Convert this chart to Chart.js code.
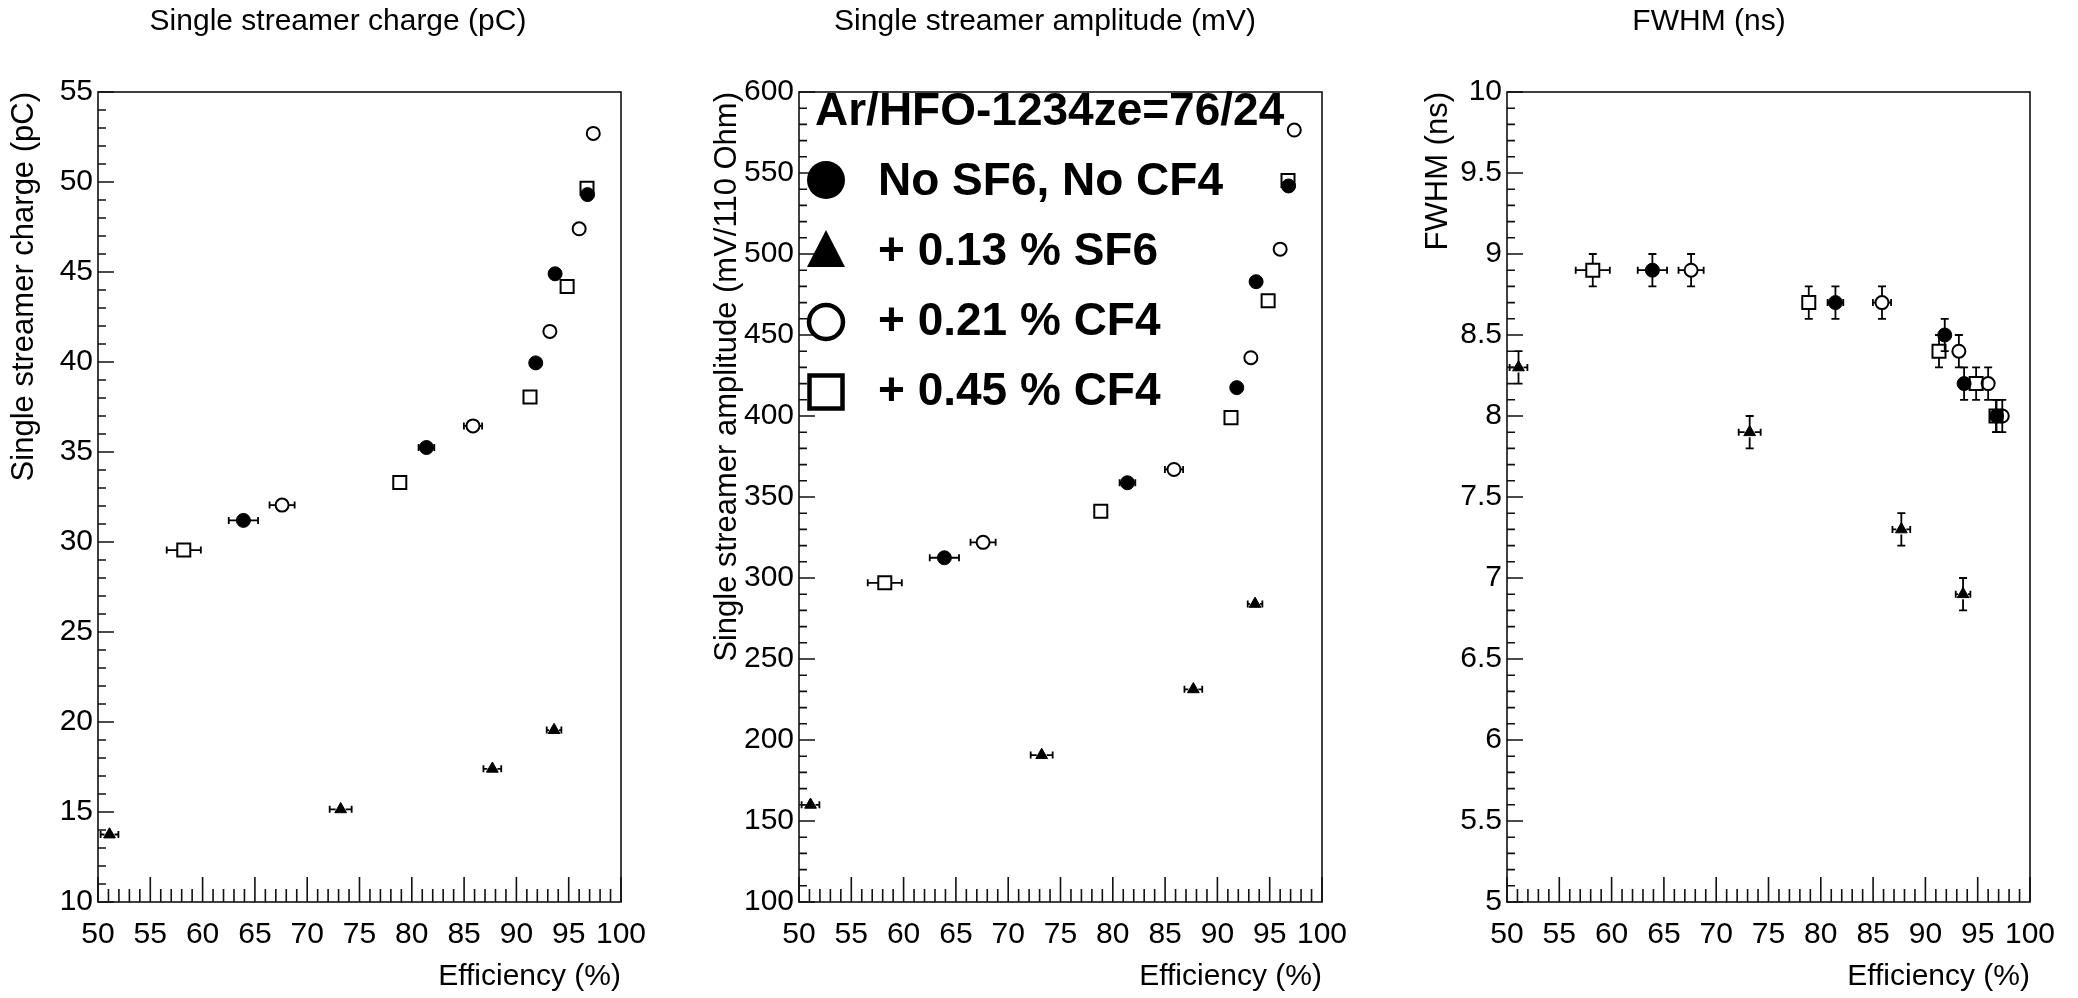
<!DOCTYPE html>
<html><head><meta charset="utf-8">
<script src="https://cdn.jsdelivr.net/npm/chart.js@4.4.1/dist/chart.umd.min.js"></script>
<style>
html,body{margin:0;padding:0;background:#fff;width:2078px;height:998px;overflow:hidden;}
canvas{position:absolute;top:0;}
</style></head><body>
<canvas id="c1" width="676" height="998" style="left:0px"></canvas>
<canvas id="c2" width="704" height="998" style="left:693px"></canvas>
<canvas id="c3" width="692" height="998" style="left:1386px"></canvas>
<script>
// ---------------- data ----------------
const seriesNames = ['No SF6, No CF4', '+ 0.13 % SF6', '+ 0.21 % CF4', '+ 0.45 % CF4'];
const legendHeader = 'Ar/HFO-1234ze=76/24';
const panelTitles = ['Single streamer charge (pC)', 'Single streamer amplitude (mV)', 'FWHM (ns)'];
const yAxisTitles = ['Single streamer charge (pC)', 'Single streamer amplitude (mV/110 Ohm)', 'FWHM (ns)'];
const xAxisTitle = 'Efficiency (%)';

const efficiencyTicks = [50, 55, 60, 65, 70, 75, 80, 85, 90, 95, 100];
const efficiencyTickLabels = ['50', '55', '60', '65', '70', '75', '80', '85', '90', '95', '100'];
const chargeTicks = [10, 15, 20, 25, 30, 35, 40, 45, 50, 55];
const chargeTickLabels = ['10', '15', '20', '25', '30', '35', '40', '45', '50', '55'];
const amplitudeTicks = [100, 150, 200, 250, 300, 350, 400, 450, 500, 550, 600];
const amplitudeTickLabels = ['100', '150', '200', '250', '300', '350', '400', '450', '500', '550', '600'];
const fwhmTicks = [5, 5.5, 6, 6.5, 7, 7.5, 8, 8.5, 9, 9.5, 10];
const fwhmTickLabels = ['5', '5.5', '6', '6.5', '7', '7.5', '8', '8.5', '9', '9.5', '10'];

// efficiency (%) per series
const effNoAdd  = [63.9, 81.4, 91.85, 93.7, 96.8];
const effSF6    = [51.1, 73.2, 87.7, 93.6];
const effCF4a   = [67.6, 85.85, 93.2, 96.0, 97.35];
const effCF4b   = [58.2, 78.85, 91.3, 94.85, 96.75];
// efficiency errors
const effErrNoAdd = [1.4, 0.75, 0.5, 0.5, 0.4];
const effErrSF6   = [0.85, 1.05, 0.85, 0.7];
const effErrCF4a  = [1.2, 0.87, 0.5, 0.4, 0.3];
const effErrCF4b  = [1.63, 0.6, 0.5, 0.4, 0.3];

// single streamer charge (pC)
const chargeNoAdd = [31.2, 35.25, 39.95, 44.9, 49.3];
const chargeSF6   = [13.75, 15.15, 17.4, 19.55];
const chargeCF4a  = [32.05, 36.45, 41.7, 47.4, 52.7];
const chargeCF4b  = [29.55, 33.3, 38.05, 44.2, 49.65];
const chargeErr   = [0.2, 0.2, 0.2, 0.2, 0.2];

// single streamer amplitude (mV)
const ampNoAdd = [312.5, 358.8, 417.5, 482.9, 542];
const ampSF6   = [160, 190.7, 231.3, 284];
const ampCF4a  = [322, 367, 436, 503, 576.5];
const ampCF4b  = [297, 341.2, 399, 471.2, 545.3];
const ampErr   = [2, 2, 2, 2, 2];

// FWHM (ns)
const fwhmNoAdd = [8.9, 8.7, 8.5, 8.2, 8.0];
const fwhmSF6   = [8.3, 7.9, 7.3, 6.9];
const fwhmCF4a  = [8.9, 8.7, 8.4, 8.2, 8.0];
const fwhmCF4b  = [8.9, 8.7, 8.4, 8.2, 8.0];
const fwhmErr   = [0.1, 0.1, 0.1, 0.1, 0.1];

// ---------------- styling ----------------
const FONT = "'Liberation Sans', Arial, Helvetica, sans-serif";
const seriesStyles = [
  {style: 'circle',   fill: true,  r: 7,   gap: 6},
  {style: 'triangle', fill: true,  r: 6.8, gap: 5},
  {style: 'circle',   fill: false, r: 6.5, gap: 6.5},
  {style: 'rect',     fill: false, r: 9.2, gap: 6.5}
];
const effs = [effNoAdd, effSF6, effCF4a, effCF4b];
const effErrs = [effErrNoAdd, effErrSF6, effErrCF4a, effErrCF4b];

function buildDatasets(values, yErr) {
  return values.map((vals, s) => {
    const st = seriesStyles[s];
    return {
      label: seriesNames[s],
      data: vals.map((v, i) => ({x: effs[s][i], y: v, xe: effErrs[s][i], ye: yErr[i]})),
      showLine: false,
      clip: false,
      pointStyle: st.style,
      pointRadius: st.r,
      pointHoverRadius: st.r,
      pointBackgroundColor: st.fill ? '#000' : 'rgba(0,0,0,0)',
      pointBorderColor: '#000',
      pointBorderWidth: st.fill ? 1 : 2,
      errGap: st.gap
    };
  });
}

// error bars (drawn through the chart scales)
const errorBars = {
  id: 'errorBars',
  beforeDatasetsDraw(chart) {
    const ctx = chart.ctx, xs = chart.scales.x, ys = chart.scales.y;
    ctx.save();
    ctx.strokeStyle = '#000';
    ctx.lineWidth = 1.8;
    chart.data.datasets.forEach(ds => {
      const g = ds.errGap;
      ds.data.forEach(p => {
        const cx = xs.getPixelForValue(p.x), cy = ys.getPixelForValue(p.y);
        const xl = xs.getPixelForValue(p.x - p.xe), xr = xs.getPixelForValue(p.x + p.xe);
        const yt = ys.getPixelForValue(p.y + p.ye), yb = ys.getPixelForValue(p.y - p.ye);
        ctx.beginPath();
        if (cx - xl > g) {
          ctx.moveTo(xl, cy); ctx.lineTo(cx - g, cy);
          ctx.moveTo(cx + g, cy); ctx.lineTo(xr, cy);
          ctx.moveTo(xl, cy - 3.5); ctx.lineTo(xl, cy + 3.5);
          ctx.moveTo(xr, cy - 3.5); ctx.lineTo(xr, cy + 3.5);
        }
        if (yb - cy > g) {
          ctx.moveTo(cx, yt); ctx.lineTo(cx, cy - g);
          ctx.moveTo(cx, cy + g); ctx.lineTo(cx, yb);
          ctx.moveTo(cx - 4, yt); ctx.lineTo(cx + 4, yt);
          ctx.moveTo(cx - 4, yb); ctx.lineTo(cx + 4, yb);
        }
        ctx.stroke();
      });
    });
    ctx.restore();
  }
};

// frame + ROOT-like inward ticks (major and minor)
const frameTicks = {
  id: 'frameTicks',
  afterDraw(chart, args, o) {
    const ctx = chart.ctx, a = chart.chartArea, xs = chart.scales.x, ys = chart.scales.y;
    ctx.save();
    ctx.strokeStyle = '#111';
    ctx.lineWidth = 1.6;
    ctx.strokeRect(a.left, a.top, a.right - a.left, a.bottom - a.top);
    ctx.beginPath();
    const nx = Math.round((xs.max - xs.min) / o.xMinor);
    for (let i = 0; i <= nx; i++) {
      const v = xs.min + i * o.xMinor;
      const major = o.xMajor.some(t => Math.abs(t - v) < 1e-6);
      const px = xs.getPixelForValue(v);
      ctx.moveTo(px, a.bottom); ctx.lineTo(px, a.bottom - (major ? 25 : 13));
    }
    const ny = Math.round((ys.max - ys.min) / o.yMinor);
    for (let i = 0; i <= ny; i++) {
      const v = ys.min + i * o.yMinor;
      const major = o.yMajor.some(t => Math.abs(t - v) < 1e-6);
      const py = ys.getPixelForValue(v);
      ctx.moveTo(a.left, py); ctx.lineTo(a.left + (major ? 16 : 8), py);
    }
    ctx.stroke();
    ctx.restore();
  }
};

// panel title, centred like the ROOT pad title
const panelTitle = {
  id: 'panelTitle',
  afterDraw(chart, args, o) {
    const ctx = chart.ctx;
    ctx.save();
    ctx.fillStyle = '#000';
    ctx.font = '30px ' + FONT;
    ctx.textAlign = 'center';
    ctx.textBaseline = 'middle';
    ctx.fillText(o.text, o.x, 22);
    ctx.restore();
  }
};

// legend block inside the amplitude panel
const boxLegend = {
  id: 'boxLegend',
  afterDraw(chart, args, o) {
    if (!o || !o.show) return;
    const ctx = chart.ctx, a = chart.chartArea;
    ctx.save();
    ctx.fillStyle = '#000';
    ctx.strokeStyle = '#000';
    ctx.font = 'bold 46px ' + FONT;
    ctx.textBaseline = 'middle';
    ctx.textAlign = 'left';
    ctx.fillText(legendHeader, a.left + 16, a.top + 20);
    seriesNames.forEach((name, i) => {
      const y = a.top + 90 + 70 * i;
      const mx = a.left + 27;
      ctx.lineWidth = 4.5;
      ctx.beginPath();
      if (i === 0) { ctx.arc(mx, y - 2, 19, 0, Math.PI * 2); ctx.fill(); }
      else if (i === 1) { ctx.moveTo(mx, y - 22); ctx.lineTo(mx + 19, y + 15); ctx.lineTo(mx - 19, y + 15); ctx.closePath(); ctx.fill(); }
      else if (i === 2) { ctx.arc(mx, y, 17, 0, Math.PI * 2); ctx.stroke(); }
      else { ctx.rect(mx - 16.5, y - 16.5, 33, 33); ctx.stroke(); }
      ctx.fillText(name, a.left + 79, y);
    });
    ctx.restore();
  }
};

function makePanel(id, cfg) {
  const tickFont = {family: FONT, size: 30};
  return new Chart(document.getElementById(id), {
    type: 'scatter',
    data: {datasets: buildDatasets(cfg.values, cfg.yErr)},
    options: {
      responsive: false,
      animation: false,
      devicePixelRatio: 1,
      layout: {padding: {left: 0, right: cfg.padRight, top: 92, bottom: 0}},
      plugins: {
        legend: {display: false},
        tooltip: {enabled: false},
        title: {display: false},
        panelTitle: {text: cfg.title, x: cfg.titleX},
        frameTicks: {xMinor: 1, yMinor: cfg.yMinor, xMajor: efficiencyTicks, yMajor: cfg.yTicks},
        boxLegend: {show: !!cfg.legend}
      },
      scales: {
        x: {
          type: 'linear', position: 'bottom', min: 50, max: 100,
          afterBuildTicks: s => { s.ticks = efficiencyTicks.map(v => ({value: v})); },
          afterFit: s => { s.height = 96; },
          grid: {display: false, drawTicks: false},
          border: {display: false},
          ticks: {autoSkip: false, maxRotation: 0, minRotation: 0, padding: 15, color: '#000', font: tickFont,
                  callback: (v, i) => efficiencyTickLabels[i]},
          title: {display: true, text: xAxisTitle, align: 'end', color: '#000', font: tickFont,
                  padding: {top: 0, bottom: 3}}
        },
        y: {
          type: 'linear', position: 'left', min: cfg.yMin, max: cfg.yMax,
          afterBuildTicks: s => { s.ticks = cfg.yTicks.map(v => ({value: v})); },
          afterFit: s => { s.width = cfg.yWidth; },
          grid: {display: false, drawTicks: false},
          border: {display: false},
          ticks: {autoSkip: false, padding: 5, color: '#000', font: tickFont,
                  callback: (v, i) => cfg.yLabels[i]},
          title: {display: true, text: cfg.yTitle, align: 'end', color: '#000',
                  font: {family: FONT, size: 31},
                  padding: {top: cfg.yTitlePad, bottom: 0}}
        }
      }
    },
    plugins: [errorBars, frameTicks, panelTitle, boxLegend]
  });
}

makePanel('c1', {
  title: panelTitles[0], titleX: 338, yTitle: yAxisTitles[0],
  values: [chargeNoAdd, chargeSF6, chargeCF4a, chargeCF4b], yErr: chargeErr,
  yMin: 10, yMax: 55, yTicks: chargeTicks, yLabels: chargeTickLabels, yMinor: 1,
  yWidth: 98, padRight: 55, yTitlePad: 5.4
});
makePanel('c2', {
  title: panelTitles[1], titleX: 352, yTitle: yAxisTitles[1],
  values: [ampNoAdd, ampSF6, ampCF4a, ampCF4b], yErr: ampErr,
  yMin: 100, yMax: 600, yTicks: amplitudeTicks, yLabels: amplitudeTickLabels, yMinor: 10,
  yWidth: 106, padRight: 75, yTitlePad: 15.4, legend: true
});
makePanel('c3', {
  title: panelTitles[2], titleX: 323, yTitle: yAxisTitles[2],
  values: [fwhmNoAdd, fwhmSF6, fwhmCF4a, fwhmCF4b], yErr: fwhmErr,
  yMin: 5, yMax: 10, yTicks: fwhmTicks, yLabels: fwhmTickLabels, yMinor: 0.1,
  yWidth: 121, padRight: 48, yTitlePad: 33.4
});
</script>
</body></html>
